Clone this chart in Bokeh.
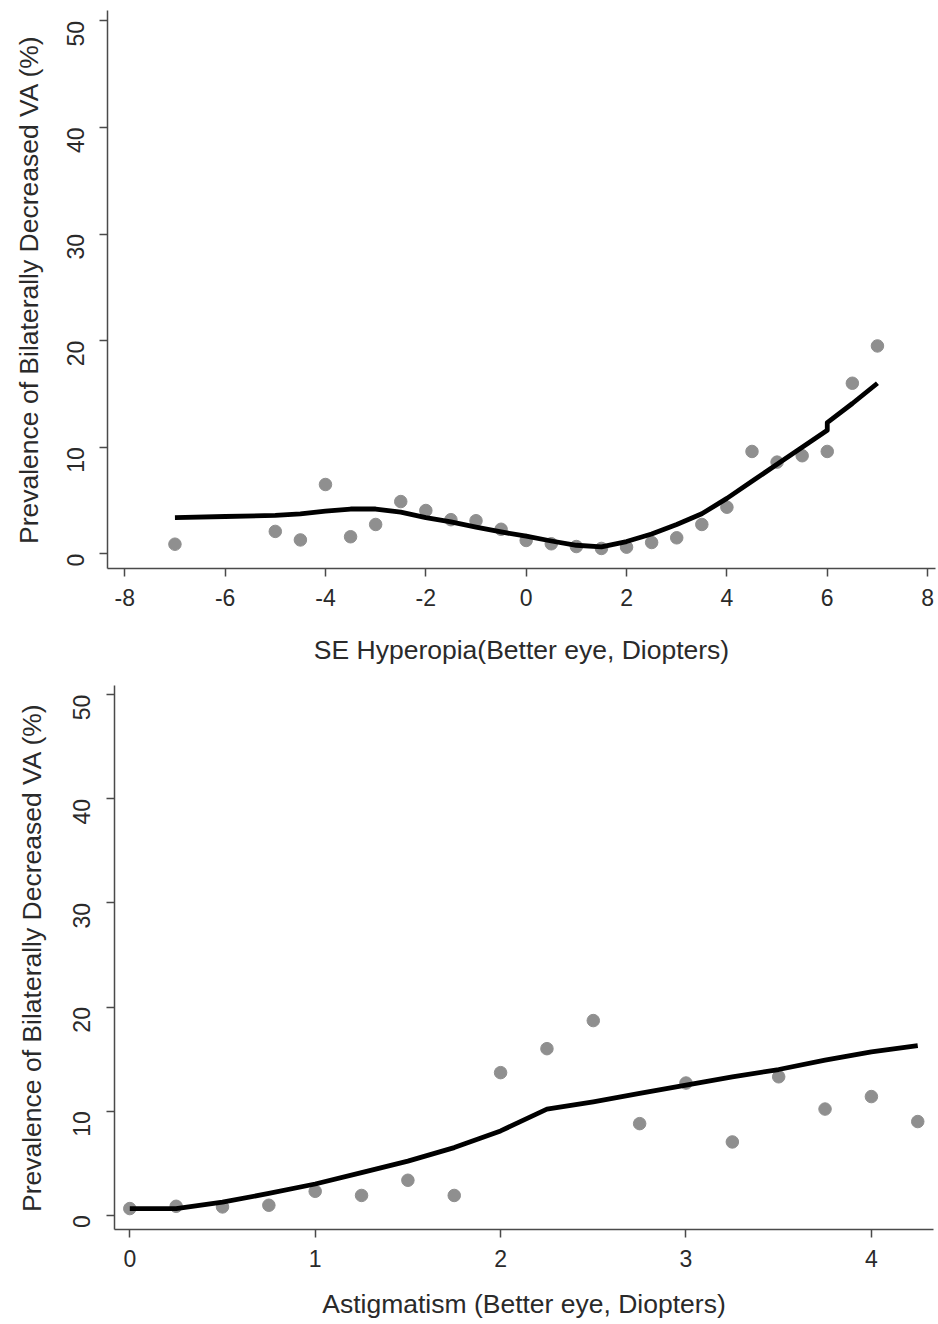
import math
from bokeh.plotting import figure
from bokeh.models import Range1d, FixedTicker
from bokeh.embed import file_html
from bokeh.resources import INLINE

# ---- Top panel: SE Hyperopia ----
se_x = [-7, -5, -4.5, -4, -3.5, -3, -2.5, -2, -1.5, -1, -0.5, 0, 0.5, 1, 1.5, 2,
        2.5, 3, 3.5, 4, 4.5, 5, 5.5, 6, 6.5, 7]
se_prev = [0.9, 2.1, 1.3, 6.5, 1.6, 2.75, 4.9, 4.06, 3.2, 3.1, 2.3, 1.25, 0.94, 0.68,
           0.5, 0.62, 1.06, 1.5, 2.75, 4.37, 9.6, 8.6, 9.2, 9.6, 16.0, 19.5]
se_fit_x = [-7, -6, -5, -4.5, -4, -3.5, -3, -2.5, -2, -1.5, -1, -0.5, 0, 0.5, 1, 1.5,
            2, 2.5, 3, 3.5, 4, 4.5, 5, 5.5, 6, 6, 6.5, 7]
se_fit_y = [3.4, 3.5, 3.6, 3.75, 4.0, 4.2, 4.2, 3.9, 3.4, 3.0, 2.5, 2.05, 1.65, 1.2,
            0.8, 0.65, 1.15, 1.85, 2.75, 3.75, 5.2, 6.8, 8.4, 10.0, 11.6, 12.3, 14.1, 16.0]
se_ticks = [-8, -6, -4, -2, 0, 2, 4, 6, 8]

# ---- Bottom panel: Astigmatism ----
ast_x = [0, 0.25, 0.5, 0.75, 1.0, 1.25, 1.5, 1.75, 2.0, 2.25, 2.5, 2.75, 3.0, 3.25,
         3.5, 3.75, 4.0, 4.25]
ast_prev = [0.64, 0.86, 0.8, 0.96, 2.3, 1.9, 3.36, 1.9, 13.7, 16.0, 18.7, 8.8, 12.7,
            7.04, 13.3, 10.2, 11.4, 9.0]
ast_fit_x = [0, 0.25, 0.5, 0.75, 1.0, 1.25, 1.5, 1.75, 2.0, 2.25, 2.5, 2.75, 3.0,
             3.25, 3.5, 3.75, 4.0, 4.25]
ast_fit_y = [0.64, 0.64, 1.25, 2.1, 3.0, 4.1, 5.2, 6.5, 8.1, 10.2, 10.9, 11.7, 12.5,
             13.3, 14.0, 14.9, 15.7, 16.3]
ast_ticks = [0, 1, 2, 3, 4]

y_ticks = [0, 10, 20, 30, 40, 50]
y_title = "Prevalence of Bilaterally Decreased VA (%)"

FONT = "Liberation Sans"
TXT = "#2a2a2a"
AX = "#4a4a4a"
PT = "#8f8f8f"


def make_panel(width, height, xr, yr, mb, xticks, xlabel, px, py, fx, fy,
               xs1, xs2, ys1, ys2):
    p = figure(width=width, height=height, output_backend="svg",
               toolbar_location=None, x_range=Range1d(*xr), y_range=Range1d(*yr),
               min_border_left=mb[0], min_border_right=mb[1],
               min_border_top=mb[2], min_border_bottom=mb[3])
    p.outline_line_color = None
    p.xgrid.visible = False
    p.ygrid.visible = False
    p.background_fill_color = "white"
    p.border_fill_color = "white"

    p.scatter(px, py, size=12.5, color=PT, line_color=PT)
    p.line(fx, fy, line_width=4.8, color="black", line_join="round")

    for ax in (p.xaxis[0], p.yaxis[0]):
        ax.axis_line_color = AX
        ax.axis_line_width = 1.5
        ax.major_tick_line_color = AX
        ax.major_tick_line_width = 1.5
        ax.major_tick_in = 0
        ax.major_tick_out = 8
        ax.minor_tick_line_color = None
        ax.major_label_text_font = FONT
        ax.major_label_text_font_size = "23px"
        ax.major_label_text_color = TXT
        ax.axis_label_text_font = FONT
        ax.axis_label_text_font_size = "26.5px"
        ax.axis_label_text_font_style = "normal"
        ax.axis_label_text_color = TXT

    p.xaxis[0].ticker = FixedTicker(ticks=xticks)
    p.xaxis[0].major_label_overrides = {t: str(t) for t in xticks}
    p.xaxis[0].major_label_standoff = xs1
    p.xaxis[0].axis_label = xlabel
    p.xaxis[0].axis_label_standoff = xs2

    p.yaxis[0].ticker = FixedTicker(ticks=y_ticks)
    p.yaxis[0].major_label_overrides = {t: str(t) for t in y_ticks}
    p.yaxis[0].major_label_orientation = math.pi / 2
    p.yaxis[0].major_label_standoff = ys1
    p.yaxis[0].axis_label = y_title
    p.yaxis[0].axis_label_standoff = ys2
    return p


p1 = make_panel(938, 680, (-8.344, 8.157), (-1.38, 50.97), (107, 3, 10, 112),
                se_ticks, "SE Hyperopia(Better eye, Diopters)",
                se_x, se_prev, se_fit_x, se_fit_y, 12, 26, 24, 12)
p2 = make_panel(938, 644, (-0.0825, 4.335), (-1.37, 50.89), (114, 5, 5, 95),
                ast_ticks, "Astigmatism (Better eye, Diopters)",
                ast_x, ast_prev, ast_fit_x, ast_fit_y, 12, 19, 25, 15)

open("out.html", "w").write(file_html([p1, p2], INLINE))
